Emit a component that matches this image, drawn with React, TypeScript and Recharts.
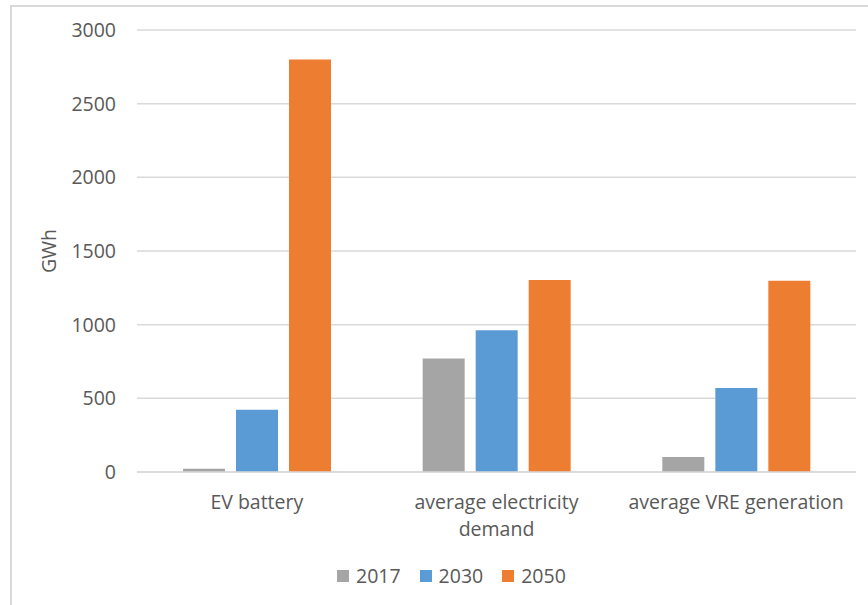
import React from 'react';
import { BarChart, Bar, XAxis, YAxis, CartesianGrid, Legend } from 'recharts';

const categories = ['EV battery', 'average electricity demand', 'average VRE generation'];
const categoryLines: Record<string, string[]> = {
  'EV battery': ['EV battery'],
  'average electricity demand': ['average electricity', 'demand'],
  'average VRE generation': ['average VRE generation'],
};
const series2017 = [22, 770, 102];
const series2030 = [422, 962, 570];
const series2050 = [2800, 1303, 1298];
const yTicks = [0, 500, 1000, 1500, 2000, 2500, 3000];
const seriesNames = ['2017', '2030', '2050'];
const seriesColors = ['#a5a5a5', '#5b9bd5', '#ed7d31'];

const data = categories.map((c, i) => ({
  name: c,
  '2017': series2017[i],
  '2030': series2030[i],
  '2050': series2050[i],
}));

const FONT = "'Open Sans', sans-serif";
const FS = 19.5;
const TEXT_COLOR = '#595959';

const CategoryTick = (props: any) => {
  const { x, y, payload } = props;
  const lines = categoryLines[payload.value] || [payload.value];
  return (
    <text x={x} y={y} textAnchor="middle" fontSize={FS} fontFamily={FONT} fill={TEXT_COLOR}>
      {lines.map((l, i) => (
        <tspan key={i} x={x} dy={i === 0 ? '0.71em' : 27}>
          {l}
        </tspan>
      ))}
    </text>
  );
};

const LegendContent = () => (
  <div style={{ display: 'flex', alignItems: 'center', height: 25, fontFamily: FONT, fontSize: FS, color: TEXT_COLOR }}>
    {seriesNames.map((n, i) => (
      <div key={n} style={{ display: 'flex', alignItems: 'center', marginRight: 19 }}>
        <div style={{ width: 12, height: 12, background: seriesColors[i], marginRight: 7 }} />
        <span style={{ lineHeight: '25px' }}>{n}</span>
      </div>
    ))}
  </div>
);

export default function App() {
  return (
    <div style={{ position: 'absolute', left: 0, top: 0, width: 868, height: 605, overflow: 'hidden', background: '#fff' }}>
      <div style={{ position: 'absolute', left: 10, top: 5, width: 900, height: 700, border: '2px solid #d9d9d9', boxSizing: 'border-box' }} />
      <div style={{ position: 'absolute', left: 0, top: 0 }}>
        <BarChart
          width={868}
          height={605}
          data={data}
          margin={{ top: 30, right: 12, left: 0, bottom: 17 }}
          barSize={42}
          barGap={11}
        >
          <CartesianGrid vertical={false} stroke="#d9d9d9" strokeWidth={1.5} />
          <XAxis
            dataKey="name"
            tickLine={false}
            axisLine={{ stroke: '#d9d9d9', strokeWidth: 1.5 }}
            tickSize={0}
            tickMargin={23}
            height={91}
            interval={0}
            tick={<CategoryTick />}
          />
          <YAxis
            width={137}
            domain={[0, 3000]}
            ticks={yTicks}
            tickLine={false}
            axisLine={false}
            tickSize={0}
            tickMargin={21}
            tick={{ fontSize: FS, fontFamily: FONT, fill: TEXT_COLOR }}
            label={{ value: 'GWh', angle: -90, position: 'center', dx: -19.5, fontSize: FS, fontFamily: FONT, fill: TEXT_COLOR }}
          />
          <Legend
            verticalAlign="bottom"
            content={<LegendContent />}
            wrapperStyle={{ left: 337, width: 320 }}
          />
          {seriesNames.map((n, i) => (
            <Bar key={n} dataKey={n} fill={seriesColors[i]} isAnimationActive={false} />
          ))}
        </BarChart>
      </div>
    </div>
  );
}
